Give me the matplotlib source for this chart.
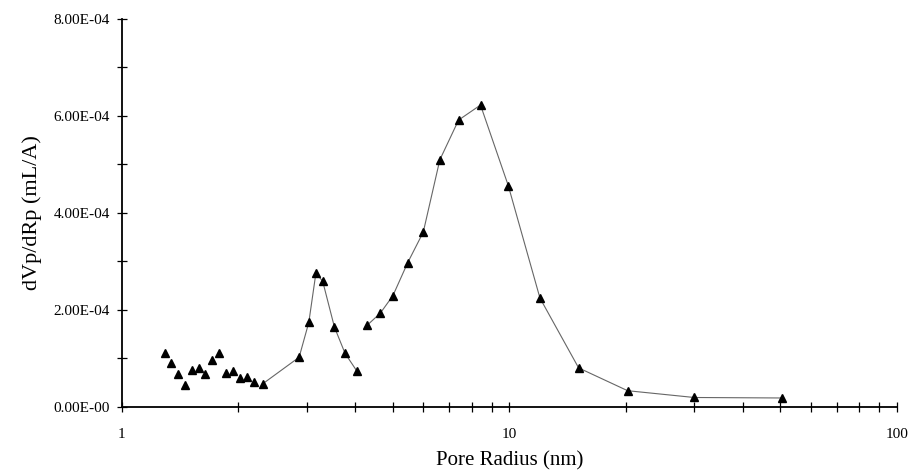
import matplotlib.pyplot as plt
import numpy as np
from matplotlib.ticker import FixedLocator, NullFormatter, LogLocator

plt.rcParams['font.family'] = ['Liberation Serif', 'DejaVu Serif']

# pore radius (nm) and dVp/dRp (mL/A)
radius = [1.29, 1.34, 1.40, 1.46, 1.52, 1.58, 1.64, 1.71, 1.78, 1.86,
          1.94, 2.02, 2.11, 2.20, 2.31, 2.87, 3.04, 3.17, 3.30, 3.54,
          3.77, 4.04, 4.30, 4.65, 5.01, 5.47, 6.00, 6.62, 7.40, 8.43,
          9.94, 12.0, 15.1, 20.2, 30.0, 50.4]
dvdr = [1.10, 0.90, 0.67, 0.45, 0.76, 0.79, 0.67, 0.96, 1.10, 0.70,
        0.74, 0.60, 0.62, 0.51, 0.47, 1.02, 1.74, 2.75, 2.59, 1.64,
        1.10, 0.74, 1.68, 1.93, 2.29, 2.97, 3.60, 5.09, 5.91, 6.22,
        4.56, 2.24, 0.80, 0.33, 0.19, 0.18]
dvdr = [v * 1e-4 for v in dvdr]

# the scan only shows connecting lines over these index ranges
line_runs = [(14, 22), (22, 36)]

ytick_vals = [0, 2e-4, 4e-4, 6e-4, 8e-4]
ytick_labels = ['0.00E-00', '2.00E-04', '4.00E-04', '6.00E-04', '8.00E-04']

fig = plt.figure(figsize=(9.12, 4.71), dpi=100)
ax = fig.add_axes([0.1334, 0.1365, 0.850, 0.8238])

for a, b in line_runs:
    ax.plot(radius[a:b], dvdr[a:b], color='#666666', lw=0.8, zorder=2)
ax.plot(radius, dvdr, ls='none', marker='^', ms=6, color='black', zorder=3)

ax.set_xscale('log')
ax.set_xlim(1, 100)
ax.set_ylim(0, 8e-4)

ax.set_yticks(ytick_vals)
ax.set_yticklabels(ytick_labels)
ax.yaxis.set_minor_locator(FixedLocator([1e-4, 3e-4, 5e-4, 7e-4]))
ax.xaxis.set_major_locator(FixedLocator([1, 10, 100]))
ax.set_xticklabels(['1', '10', '100'])
ax.xaxis.set_minor_locator(LogLocator(base=10, subs=np.arange(2, 10)))
ax.xaxis.set_minor_formatter(NullFormatter())

ax.tick_params(which='both', direction='inout', length=7, width=0.9,
               labelsize=11, color='black')
ax.tick_params(axis='x', pad=12)
ax.tick_params(axis='y', pad=5)

for s in ['top', 'right']:
    ax.spines[s].set_visible(False)
for s in ['left', 'bottom']:
    ax.spines[s].set_linewidth(1.3)

ax.set_xlabel('Pore Radius (nm)', fontsize=15, labelpad=7)
ax.set_ylabel('dVp/dRp (mL/A)', fontsize=16, labelpad=8)

fig.savefig('out.png', dpi=100)
